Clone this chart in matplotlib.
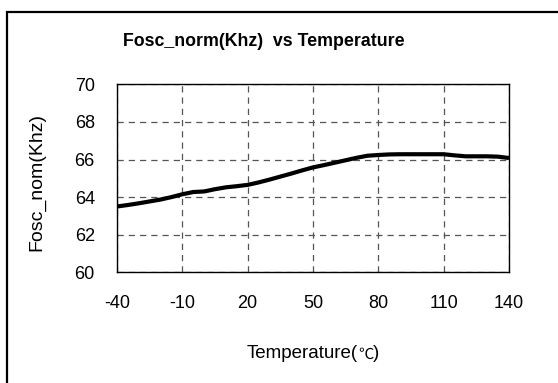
import matplotlib
matplotlib.use("Agg")
import matplotlib.pyplot as plt
from matplotlib.patches import Rectangle

plt.rcParams['font.family'] = ['Liberation Sans', 'Noto Sans CJK SC', 'DejaVu Sans']

temperature = [-40, -35, -30, -25, -20, -15, -10, -5, 0, 5, 10, 15, 20, 25, 30, 35,
               40, 45, 50, 55, 60, 65, 70, 75, 80, 85, 90, 95, 100, 105, 110, 115,
               120, 125, 130, 135, 140]
fosc = [63.50, 63.58, 63.67, 63.77, 63.87, 64.00, 64.15, 64.27, 64.30, 64.42, 64.52,
        64.58, 64.65, 64.78, 64.93, 65.09, 65.25, 65.42, 65.58, 65.70, 65.83, 65.96,
        66.09, 66.20, 66.24, 66.27, 66.28, 66.28, 66.28, 66.28, 66.28, 66.22, 66.17,
        66.17, 66.17, 66.15, 66.08]
x_ticks = [-40, -10, 20, 50, 80, 110, 140]
y_ticks = [60, 62, 64, 66, 68, 70]

title = "Fosc_norm(Khz)  vs Temperature"
xlabel_main = "Temperature("
xlabel_unit = "\u2103"
xlabel_end = ")"
ylabel = "Fosc_nom(Khz)"

W, H = 558, 383
fig = plt.figure(figsize=(W / 100, H / 100), dpi=100)
fig.patch.set_facecolor('white')

# outer chart border (left and top visible)
fig.patches.append(Rectangle((7 / W, -0.05), 1.2, (H - 12) / H + 0.05,
                             transform=fig.transFigure, fill=False,
                             edgecolor='black', linewidth=1.6))

ax = fig.add_axes([117 / W, 1 - 272.3 / H, 392 / W, 188 / H])
ax.plot(temperature, fosc, color='black', linewidth=3.0, solid_capstyle='butt',
        solid_joinstyle='round', zorder=3)
ax.set_xlim(-40, 140)
ax.set_ylim(60, 70)
ax.set_xticks(x_ticks)
ax.set_yticks(y_ticks)
ax.set_xticklabels([str(v) for v in x_ticks], fontsize=13)
ax.set_yticklabels([str(v) for v in y_ticks], fontsize=13)
ax.tick_params(axis='both', length=0)
ax.tick_params(axis='y', pad=16)
ax.tick_params(axis='x', pad=16)
ax.grid(True, color='#555555', linestyle=(0, (5, 4)), linewidth=0.9)
for s in ax.spines.values():
    s.set_linewidth(1.0)
    s.set_color('black')

fig.text(264 / W, 1 - 42 / H, title, ha='center', va='center',
         fontsize=12.8, fontweight='bold')

# x label: Latin part + CJK-style degree sign
t1 = fig.text(0, 1 - 354 / H, xlabel_main, ha='left', va='center', fontsize=13.5)
t2 = fig.text(0, 1 - 354 / H, xlabel_unit, ha='left', va='center', fontsize=11,
              family=['Noto Sans CJK SC', 'DejaVu Sans'])
t3 = fig.text(0, 1 - 354 / H, xlabel_end, ha='left', va='center', fontsize=13.5)
r = fig.canvas.get_renderer()
w1 = t1.get_window_extent(r).width
w2 = t2.get_window_extent(r).width
w3 = t3.get_window_extent(r).width
x0 = 313 - (w1 + w2 + w3) / 2
t1.set_x(x0 / W)
t2.set_x((x0 + w1) / W)
t3.set_x((x0 + w1 + w2) / W)

fig.text(37 / W, 1 - 182 / H, ylabel, ha='center', va='center', fontsize=14,
         rotation=90)

fig.savefig("out.png", dpi=100, facecolor='white')
